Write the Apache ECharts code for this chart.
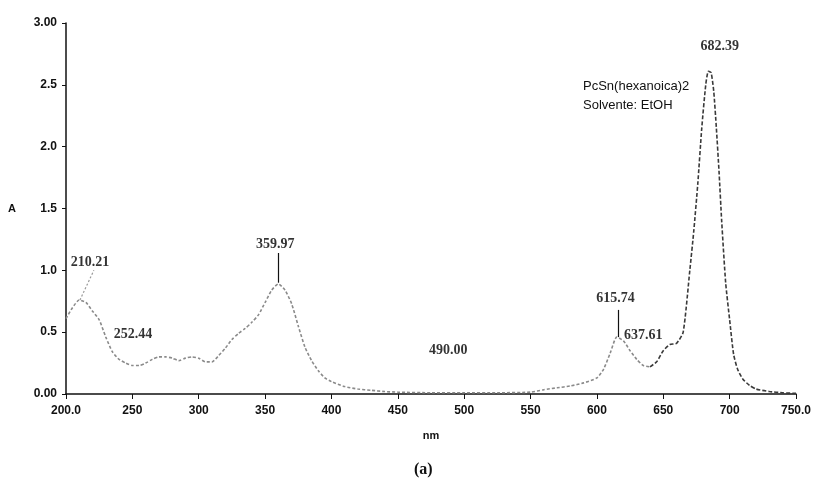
<!DOCTYPE html>
<html><head><meta charset="utf-8">
<script src="https://cdn.jsdelivr.net/npm/echarts@6/dist/echarts.min.js"></script>
<style>html,body{margin:0;padding:0;background:#fff}#c{width:817px;height:480px}</style>
</head><body><div id="c"></div>
<script>
var wavelengths = [200,205,210,215,220,225,230,235,240,245,250,255,260,265,270,275,280,285,290,295,300,305,310,315,320,325,330,335,340,345,350,355,360,365,370,375,380,385,390,395,400,410,420,430,440,450,475,500,525,550,560,570,580,590,600,605,610,615,620,625,630,635,640,645,650,655,660,665,670,673,676,679,682,684,686,688,690,692,694,697,700,703,706,710,715,720,730,740,750];
var absorbance = [0.61,0.70,0.76,0.74,0.67,0.60,0.46,0.34,0.28,0.25,0.23,0.23,0.25,0.28,0.30,0.30,0.29,0.27,0.29,0.30,0.29,0.26,0.26,0.31,0.37,0.44,0.49,0.53,0.58,0.64,0.74,0.84,0.89,0.84,0.73,0.55,0.38,0.27,0.19,0.13,0.10,0.06,0.04,0.03,0.02,0.015,0.01,0.01,0.01,0.015,0.035,0.05,0.065,0.09,0.13,0.20,0.33,0.46,0.43,0.35,0.28,0.23,0.22,0.26,0.35,0.40,0.41,0.50,1.00,1.32,1.70,2.15,2.50,2.61,2.60,2.45,2.15,1.80,1.40,0.90,0.60,0.32,0.20,0.12,0.07,0.04,0.02,0.01,0.005];
var peakLabels = ['210.21','252.44','359.97','490.00','615.74','637.61','682.39'];
var peakLabelX = [218,250.5,357.6,488,614,635,692.5];
var peakLabelY = [1.065,0.48,1.21,0.35,0.77,0.47,2.81];
var xTicks = ['200.0','250','300','350','400','450','500','550','600','650','700','750.0'];
var yTicks = ['0.00','0.5','1.0','1.5','2.0','2.5','3.00'];
var infoLines = ['PcSn(hexanoica)2','Solvente: EtOH'];
var darkFrom = 640;

var chart = echarts.init(document.getElementById('c'));
var pts = wavelengths.map(function(w,i){return [w, absorbance[i]];});
var lightPts = pts.filter(function(p){return p[0] <= darkFrom;});
var darkPts = pts.filter(function(p){return p[0] >= darkFrom;});
var labelPts = peakLabels.map(function(t,i){return {name:t, value:[peakLabelX[i], peakLabelY[i]]};});
chart.setOption({
  animation:false,
  grid:{left:66, top:23, right:21, bottom:86},
  xAxis:{type:'value', min:200, max:750, interval:50,
    name:'nm', nameLocation:'middle', nameGap:36,
    nameTextStyle:{color:'#111', fontFamily:'Liberation Sans', fontSize:11, fontWeight:'bold'},
    axisLine:{lineStyle:{color:'#111', width:1.5}},
    axisTick:{show:true, length:5, lineStyle:{color:'#111'}},
    splitLine:{show:false},
    axisLabel:{color:'#111', fontFamily:'Liberation Sans', fontSize:12, fontWeight:'bold', margin:11,
      formatter:function(v){return xTicks[Math.round((v-200)/50)];}}},
  yAxis:{type:'value', min:0, max:3, interval:0.5,
    name:'A', nameLocation:'middle', nameGap:50, nameRotate:0,
    nameTextStyle:{color:'#111', fontFamily:'Liberation Sans', fontSize:11, fontWeight:'bold', padding:[14,0,0,0]},
    axisLine:{show:true, lineStyle:{color:'#111', width:1.5}},
    axisTick:{show:true, length:4, lineStyle:{color:'#111'}},
    splitLine:{show:false},
    axisLabel:{color:'#111', fontFamily:'Liberation Sans', fontSize:12, fontWeight:'bold', margin:9,
      formatter:function(v){return yTicks[Math.round(v/0.5)];}}},
  series:[{type:'line', data:lightPts, smooth:0.2, showSymbol:false,
    lineStyle:{width:1.6, type:[3,2], color:'#8a8a8a'},
    markLine:{silent:true, symbol:'none', label:{show:false},
      data:[
        [{coord:[210.5,0.76], lineStyle:{type:[2,2], color:'#999', width:1.2}},{coord:[221,1.0]}],
        [{coord:[360,0.9], lineStyle:{type:'solid', color:'#111', width:1.2}},{coord:[360,1.14]}],
        [{coord:[616.3,0.46], lineStyle:{type:'solid', color:'#111', width:1.2}},{coord:[616.3,0.68]}]
      ]}
  },{type:'line', data:darkPts, smooth:0.2, showSymbol:false,
    lineStyle:{width:1.6, type:[4,2], color:'#3a3a3a'}
  },{
    type:'scatter', data:labelPts, symbolSize:0, silent:true,
    itemStyle:{color:'transparent'},
    label:{show:true, position:'inside', formatter:'{b}', color:'#000', textBorderWidth:0, fontFamily:'Liberation Serif', fontSize:14, fontWeight:'bold'}
  }],
  graphic:[
    {type:'text', left:583, top:80, style:{text:infoLines[0], fill:'#111', font:'13px "Liberation Sans"'}},
    {type:'text', left:583, top:99, style:{text:infoLines[1], fill:'#111', font:'13px "Liberation Sans"'}},
    {type:'text', left:414, top:462, style:{text:'(a)', fill:'#111', font:'bold 16px "Liberation Serif"'}}
  ]
});
</script></body></html>
